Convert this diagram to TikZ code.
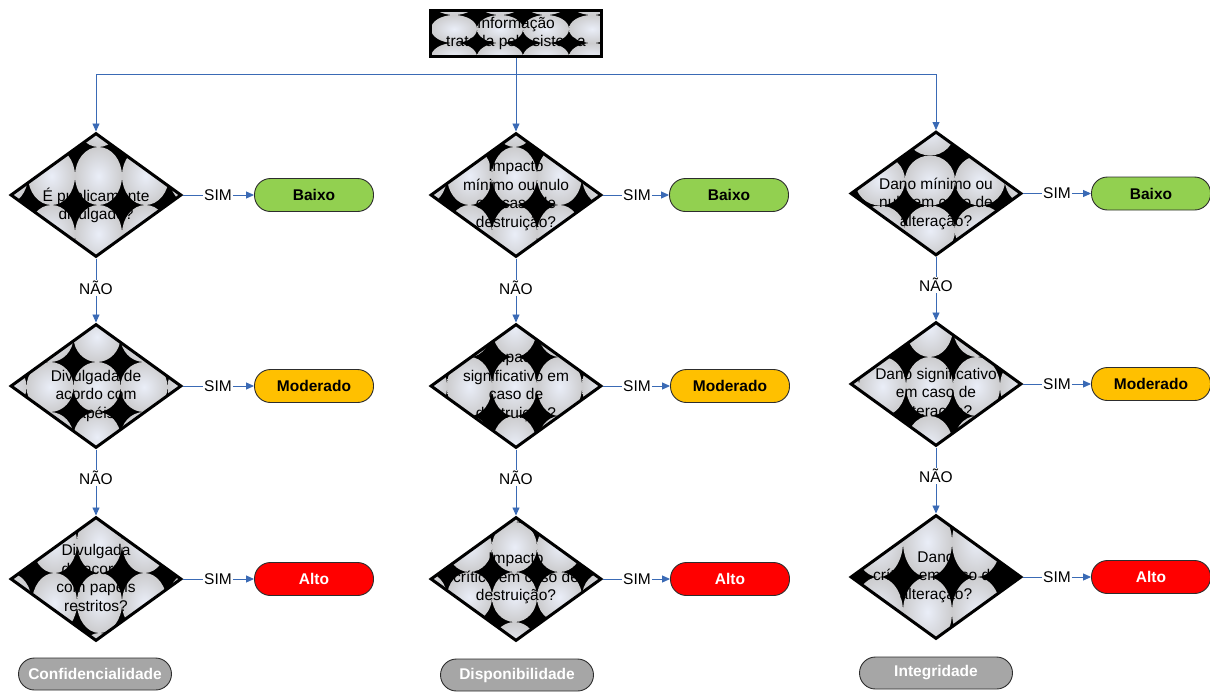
\documentclass[tikz,border=0pt]{standalone}
\usepackage{fontspec}
\setmainfont{Liberation Sans}
\usetikzlibrary{shapes.geometric,arrows.meta,calc}
\definecolor{flow}{RGB}{58,106,181}
\definecolor{tileC}{RGB}{234,238,248}
\definecolor{tileE}{RGB}{204,204,206}
\definecolor{lowG}{RGB}{146,208,80}
\definecolor{midY}{RGB}{255,192,0}
\definecolor{highR}{RGB}{255,0,0}
\definecolor{catG}{RGB}{166,166,166}
\definecolor{rim}{RGB}{45,45,45}

\begin{document}
\begin{tikzpicture}[x=1pt,y=-1pt,
  font=\fontsize{15.5}{18.5}\selectfont,
  % black ground with a grid of shaded ellipses; #1,#2 = offset of a tile corner from the centre, #3,#4 = tile size
  tiles/.style n args={4}{path picture={
     \fill[black] (path picture bounding box.south west) rectangle (path picture bounding box.north east);
     \foreach \i in {-3,...,2}{\foreach \j in {-3,...,2}{
       \shade[inner color=tileC,outer color=tileE]
         ($(path picture bounding box.center)+({#1+(\i+0.5)*#3},{#2+(\j+0.5)*#4})$)
         ellipse [x radius=#3/2, y radius=#4/2];
     }}}},
  decision/.style={diamond, draw=black, line width=3pt, minimum width=171pt,
     minimum height=124pt, inner sep=0pt},
  qtext/.style={align=center, inner sep=0pt},
  outcome/.style={draw=rim, line width=0.9pt, rounded corners=16pt,
     minimum width=119pt, minimum height=33pt, inner sep=0pt,
     font=\fontsize{15.5}{18.5}\selectfont\bfseries},
  catbox/.style={draw=rim, line width=0.9pt, fill=catG, text=white, rounded corners=16pt,
     minimum width=153pt, minimum height=32pt, inner sep=0pt,
     font=\fontsize{15.5}{18.5}\selectfont\bfseries},
  lbl/.style={inner sep=1pt},
  link/.style={draw=flow, line width=0.9pt},
  arrowlink/.style={link, -{Triangle[length=8pt,width=7pt]}}
]
\useasboundingbox (0,0) rectangle (1210,691);

% source box
\node[draw=black, line width=3pt, minimum width=171pt, minimum height=46pt, inner sep=0pt,
      tiles={7}{9.5}{46}{28}] (src) at (516,33.5) {};
\node[qtext] (srct) at (516,33.5) {Informação\\tratada pelo sistema};

% decisions
\node[decision, tiles={-21}{10}{47}{58}] (D11) at (96,195) {};
\node[decision, tiles={-24}{10}{45}{58}] (D21) at (516,195) {};
\node[decision, tiles={19}{12}{50}{50}]  (D31) at (936,193.5) {};
\node[decision, tiles={-22.5}{-24}{47}{50}] (D12) at (96,386) {};
\node[decision, tiles={-24}{-29}{45}{59}]   (D22) at (516,386) {};
\node[decision, tiles={17}{-27}{47}{59}]    (D32) at (936,384) {};
\node[decision, tiles={-19}{-6}{45}{60}] (D13) at (96,579) {};
\node[decision, tiles={-24}{-7}{45}{50}] (D23) at (516,579) {};
\node[decision, tiles={16}{0}{49}{70}]   (D33) at (936,577) {};

% decision texts
\node[qtext] (q11) at (96,205.5) {É publicamente\\divulgado?};
\node[qtext] (q21) at (516,196) {Impacto\\mínimo ou nulo\\em caso de\\destruição?};
\node[qtext] (q31) at (936,203.5) {Dano mínimo ou\\nulo em caso de\\alteração?};
\node[qtext] (q12) at (96,395.5) {Divulgada de\\acordo com\\papéis?};
\node[qtext] (q22) at (516,387) {Impacto\\significativo em\\caso de\\destruição?};
\node[qtext] (q32) at (936,394) {Dano significativo\\em caso de\\alteração?};
\node[qtext] (q13) at (96,578) {Divulgada\\de acordo\\com papéis\\restritos?};
\node[qtext] (q23) at (516,578.5) {Impacto\\crítico em caso de\\destruição?};
\node[qtext] (q33) at (936,577) {Dano\\crítico em caso de\\alteração?};

% outcomes
\node[outcome, fill=lowG] (B1) at (314,195) {Baixo};
\node[outcome, fill=lowG] (B2) at (729,195) {Baixo};
\node[outcome, fill=lowG] (B3) at (1151,193.5) {Baixo};
\node[outcome, fill=midY] (M1) at (314,386) {Moderado};
\node[outcome, fill=midY] (M2) at (730,386) {Moderado};
\node[outcome, fill=midY] (M3) at (1151,384) {Moderado};
\node[outcome, fill=highR, text=white] (A1) at (314,579) {Alto};
\node[outcome, fill=highR, text=white] (A2) at (730,579) {Alto};
\node[outcome, fill=highR, text=white] (A3) at (1151,577) {Alto};

% categories
\node[catbox] (C1) at (95,674) {Confidencialidade};
\node[catbox] (C2) at (517,675) {Disponibilidade};
\node[catbox] (C3) at (936,673) {Integridade};

% distribution from the source
\coordinate (split) at (516,74);
\draw[link] (src.south) -- (split);
\draw[arrowlink] (split) -| (D11.north);
\draw[arrowlink] (split) -- (D21.north);
\draw[arrowlink] (split) -| (D31.north);

% SIM branches
\node[lbl] (s11) at (218,195) {SIM};
\node[lbl] (s21) at (637,195) {SIM};
\node[lbl] (s31) at (1057,193.5) {SIM};
\node[lbl] (s12) at (218,386) {SIM};
\node[lbl] (s22) at (637,386) {SIM};
\node[lbl] (s32) at (1057,384) {SIM};
\node[lbl] (s13) at (218,579) {SIM};
\node[lbl] (s23) at (637,579) {SIM};
\node[lbl] (s33) at (1057,577) {SIM};
\foreach \d/\s/\r in {D11/s11/B1,D21/s21/B2,D31/s31/B3,D12/s12/M1,D22/s22/M2,D32/s32/M3,D13/s13/A1,D23/s23/A2,D33/s33/A3}{
  \draw[link] (\d.east) -- (\s.west);
  \draw[arrowlink] (\s.east) -- (\r.west);
}

% NAO branches
\node[lbl] (n11) at (96,288) {NÃO};
\node[lbl] (n21) at (516,288) {NÃO};
\node[lbl] (n31) at (936,285) {NÃO};
\node[lbl] (n12) at (96,478) {NÃO};
\node[lbl] (n22) at (516,478) {NÃO};
\node[lbl] (n32) at (936,476) {NÃO};
\foreach \a/\n/\b in {D11/n11/D12,D21/n21/D22,D31/n31/D32,D12/n12/D13,D22/n22/D23,D32/n32/D33}{
  \draw[link] (\a.south) -- (\n.north);
  \draw[arrowlink] (\n.south) -- (\b.north);
}
\end{tikzpicture}
\end{document}
